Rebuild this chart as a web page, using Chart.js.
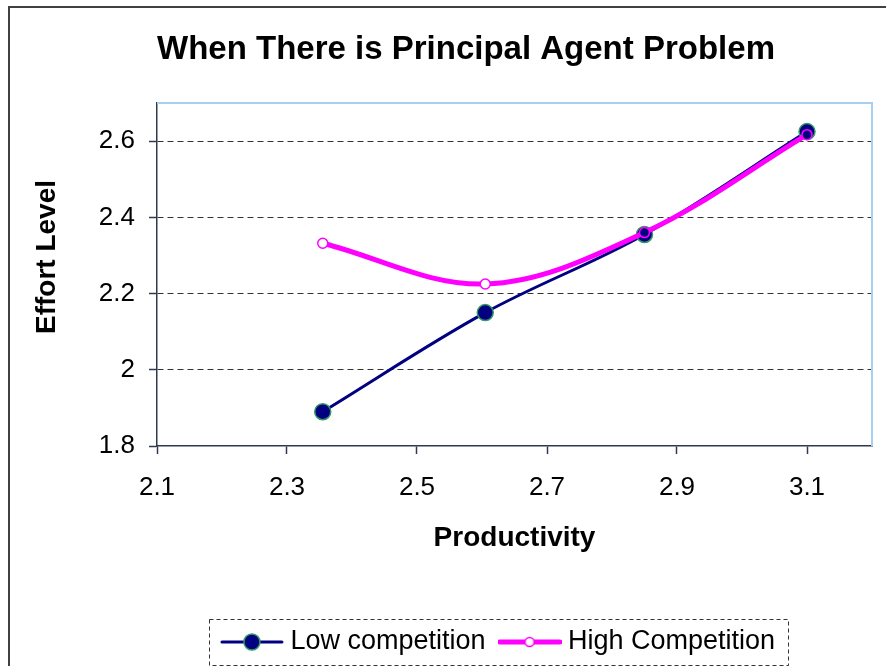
<!DOCTYPE html>
<html>
<head>
<meta charset="utf-8">
<title>When There is Principal Agent Problem</title>
<script src="https://cdn.jsdelivr.net/npm/chart.js@4.4.1/dist/chart.umd.min.js"></script>
<style>
html, body { margin: 0; padding: 0; background: #fff; }
#wrap { position: relative; width: 886px; height: 666px; }
</style>
</head>
<body>
<div id="wrap"><canvas id="chart" width="886" height="666"></canvas></div>
<script>
// values
var productivity    = [2.355, 2.605, 2.85, 3.1];
var lowCompetition  = [1.89, 2.15, 2.355, 2.625];
var highCompetition = [2.332, 2.225, 2.36, 2.617];
var xTicks = [2.1, 2.3, 2.5, 2.7, 2.9, 3.1];
var yTicks = [1.8, 2, 2.2, 2.4, 2.6];
var seriesNames = ['Low competition', 'High Competition'];
var chartTitle = 'When There is Principal Agent Problem';
var xTitle = 'Productivity';
var yTitle = 'Effort Level';

var FONT = '"Liberation Sans", Arial, sans-serif';
var NAVY = '#000080', PINK = '#ff00ff';

Chart.defaults.font.family = FONT;
Chart.defaults.color = '#000';

function points( ys ){
	return productivity.map( function( x, i ){ return { x: x, y: ys[ i ] }; } );
}

// little line+marker pictures for the legend
function legendIcon( lineColor, lineWidth, radius, fill, stroke, strokeWidth ){
	var c = document.createElement( 'canvas' );
	c.width = 64; c.height = 20;
	var g = c.getContext( '2d' );
	g.lineCap = 'round';
	g.strokeStyle = lineColor; g.lineWidth = lineWidth;
	g.beginPath(); g.moveTo( 2, 10 ); g.lineTo( 62, 10 ); g.stroke();
	g.beginPath(); g.arc( 32, 10, radius, 0, Math.PI * 2 );
	g.fillStyle = fill; g.fill();
	g.lineWidth = strokeWidth; g.strokeStyle = stroke; g.stroke();
	return c;
}
var icons = [
	legendIcon( NAVY, 3, 8, NAVY, '#339966', 1.5 ),
	legendIcon( PINK, 5, 4.5, '#fff', PINK, 1.5 )
];

var decor = {
	id: 'decor',
	afterLayout: function( chart ){
		var lg = chart.legend, h = lg.height;
		lg.left += 65; lg.right += 65;
		lg.top = 642 - 19 - 13.5; lg.bottom = lg.top + h;
	},
	beforeDraw: function( chart ){
		var c = chart.ctx;
		c.save();
		c.strokeStyle = '#404040'; c.lineWidth = 2;
		c.beginPath(); c.moveTo( 9, 666 ); c.lineTo( 9, 7 ); c.lineTo( 886, 7 ); c.stroke();
		c.restore();
	},
	beforeDatasetsDraw: function( chart ){
		var a = chart.chartArea, c = chart.ctx;
		c.save();
		c.strokeStyle = '#a6cff5'; c.lineWidth = 2;
		c.beginPath(); c.moveTo( a.left, a.top ); c.lineTo( a.right, a.top ); c.lineTo( a.right, a.bottom ); c.stroke();
		c.restore();
	},
	afterDraw: function( chart ){
		var c = chart.ctx, hb = chart.legend.legendHitBoxes;
		c.save();
		// dashed legend frame
		var l = hb[ 0 ].left - 18, r = hb[ hb.length - 1 ].left + hb[ hb.length - 1 ].width + 13,
			t = hb[ 0 ].top - 10, b = hb[ 0 ].top + hb[ 0 ].height + 9;
		c.strokeStyle = '#333'; c.lineWidth = 1; c.setLineDash( [ 4, 3 ] );
		c.strokeRect( Math.round( l ) + 0.5, Math.round( t ) + 0.5, Math.round( r - l ), Math.round( b - t ) );
		c.setLineDash( [] );
		// titles
		c.fillStyle = '#000';
		c.textAlign = 'center'; c.textBaseline = 'middle';
		c.font = 'bold 33px ' + FONT;
		c.fillText( chartTitle, 466, 50 );
		c.translate( 47, 257 ); c.rotate( -Math.PI / 2 );
		c.font = 'bold 28px ' + FONT;
		c.fillText( yTitle, 0, 0 );
		c.restore();
	}
};

new Chart( document.getElementById( 'chart' ).getContext( '2d' ), {
	type: 'line',
	data: {
		datasets: [
			{
				label: seriesNames[ 0 ], data: points( lowCompetition ), order: 1,
				borderColor: NAVY, borderWidth: 3, tension: 0.35,
				pointRadius: 8, pointHoverRadius: 8, pointBackgroundColor: NAVY,
				pointBorderColor: '#339966', pointBorderWidth: 1.5
			},
			{
				label: seriesNames[ 1 ], data: points( highCompetition ), order: 0,
				borderColor: PINK, borderWidth: 5, tension: 0.35,
				pointRadius: 5, pointHoverRadius: 5,
				pointBackgroundColor: [ '#fff', '#fff', NAVY, NAVY ],
				pointBorderColor: PINK, pointBorderWidth: 1.5
			}
		]
	},
	options: {
		responsive: false,
		animation: false,
		devicePixelRatio: 1,
		layout: { padding: { left: 0, right: 14, top: 103, bottom: 55 } },
		plugins: {
			title: { display: false },
			tooltip: { enabled: false },
			legend: {
				position: 'bottom',
				labels: {
					usePointStyle: true, pointStyleWidth: 50, boxHeight: 20,
					padding: 19, color: '#000', font: { size: 27 },
					generateLabels: function( chart ){
						var items = Chart.defaults.plugins.legend.labels.generateLabels( chart );
						items.forEach( function( it ){ it.pointStyle = icons[ it.datasetIndex ]; } );
						return items;
					},
					sort: function( a, b ){ return a.datasetIndex - b.datasetIndex; }
				}
			}
		},
		scales: {
			x: {
				type: 'linear', min: 2.1, max: 3.2,
				afterBuildTicks: function( s ){ s.ticks = xTicks.map( function( v ){ return { value: v }; } ); },
				afterFit: function( s ){ s.height = 109; },
				grid: { drawOnChartArea: false, drawTicks: true, tickLength: 8, tickColor: '#2f3b4c', tickWidth: 1.5 },
				border: { color: '#2f3b4c', width: 1.5 },
				ticks: { padding: 18, font: { size: 26 }, color: '#000', maxRotation: 0,
					callback: function( v ){ return String( +v.toFixed( 2 ) ); } },
				title: { display: true, text: xTitle, font: { size: 28, weight: 'bold' }, color: '#000', padding: { top: 0, bottom: 0 } }
			},
			y: {
				min: 1.8, max: 2.7,
				afterBuildTicks: function( s ){ s.ticks = yTicks.map( function( v ){ return { value: v }; } ); },
				afterFit: function( s ){ s.width = 157; },
				grid: {
					color: function( ctx ){ return ctx.tick && ctx.tick.value === yTicks[ 0 ] ? 'rgba(0,0,0,0)' : '#333'; },
					lineWidth: 1,
					drawTicks: true, tickLength: 8, tickColor: '#2f3b4c', tickWidth: 1.5, tickBorderDash: []
				},
				border: { color: '#2f3b4c', width: 1.5, dash: [ 6, 4 ] },
				ticks: { padding: 14, font: { size: 26 }, color: '#000',
					callback: function( v ){ return String( +v.toFixed( 2 ) ); } }
			}
		}
	},
	plugins: [ decor ]
} );
</script>
</body>
</html>
